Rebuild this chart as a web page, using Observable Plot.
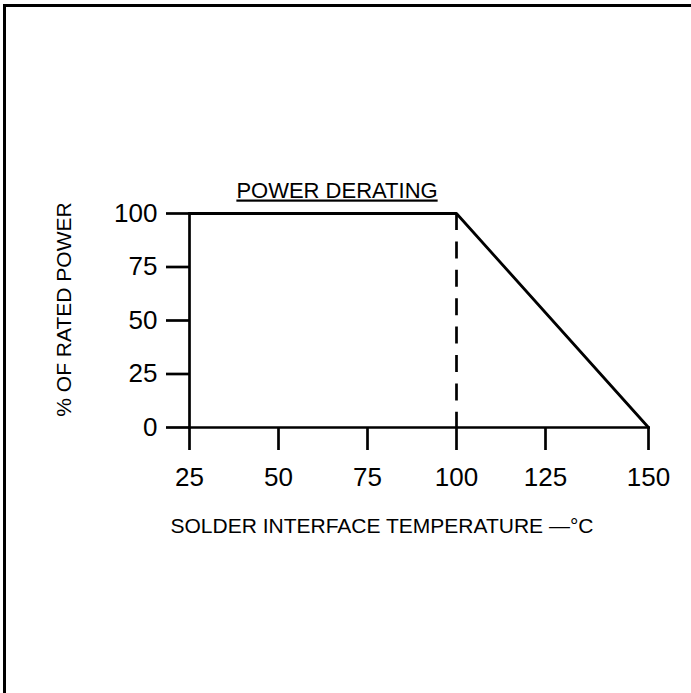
<!DOCTYPE html>
<html><head><meta charset="utf-8">
<script src="https://cdn.jsdelivr.net/npm/d3@7"></script>
<script src="https://cdn.jsdelivr.net/npm/@observablehq/plot@0.6"></script>
<style>
html,body{margin:0;padding:0;background:#fff;overflow:hidden}
#wrap{position:relative;width:691px;height:693px}
#border{position:absolute;left:3px;top:4px;width:700px;height:700px;border-top:3px solid #000;border-left:3px solid #000;box-sizing:border-box;pointer-events:none}
#wrap svg{position:absolute;left:0;top:0}
</style></head><body><div id="wrap"><div id="border"></div></div>
<script>
const title = "POWER DERATING";
const xLabel = "SOLDER INTERFACE TEMPERATURE \u2014\u00B0C";
const yLabel = "% OF RATED POWER";
const temperature = [25, 100, 150];
const ratedPower = [100, 100, 0];
const kneeTemperature = [100];
const xTicks = [25, 50, 75, 100, 125, 150];
const yTicks = [0, 25, 50, 75, 100];
const curve = temperature.map((t, i) => ({temperature: t, power: ratedPower[i]}));

const W = 691, H = 693, ml = 189, mr = 43, mt = 213, mb = 266;
const sw = 2.7;
const chart = Plot.plot({
  width: W, height: H,
  marginLeft: ml, marginRight: mr, marginTop: mt, marginBottom: mb,
  style: {fontFamily: "'Liberation Sans', Arial, sans-serif", color: "#000", background: "transparent", overflow: "visible"},
  x: {type: "linear", domain: [25, 125, 150], range: [ml, 545, W - mr]},
  y: {domain: [0, 100]},
  marks: [
    Plot.axisX(xTicks, {tickSize: 23, tickPadding: 17, fontSize: 26, strokeWidth: sw, label: null, tickFormat: d => String(d)}),
    Plot.axisY(yTicks, {tickSize: 23, tickPadding: 9, fontSize: 26, strokeWidth: sw, label: null, tickFormat: d => String(d)}),
    Plot.frame({anchor: "bottom", strokeWidth: sw}),
    Plot.frame({anchor: "left", strokeWidth: sw}),
    Plot.ruleX(kneeTemperature, {x: d => d, y1: d3.max(ratedPower), y2: d3.min(ratedPower), strokeWidth: sw, strokeDasharray: "17,11.4", strokeLinecap: "butt"}),
    Plot.line(curve, {x: "temperature", y: "power", strokeWidth: 2.8}),
    Plot.text([title], {text: d => d, frameAnchor: "top", textAnchor: "middle", lineAnchor: "bottom", dx: -82, dy: -16, fontSize: 22}),
    Plot.text([xLabel], {text: d => d, frameAnchor: "bottom-left", textAnchor: "start", lineAnchor: "top", dx: -19, dy: 91, fontSize: 21}),
    Plot.text([yLabel], {text: d => d, frameAnchor: "left", rotate: -90, textAnchor: "middle", lineAnchor: "bottom", dx: -119, dy: -11, fontSize: 21})
  ]
});
d3.select(chart).selectAll("text").filter(function () { return this.textContent === title; })
  .style("text-decoration", "underline");
document.getElementById("wrap").appendChild(chart);
</script></body></html>
